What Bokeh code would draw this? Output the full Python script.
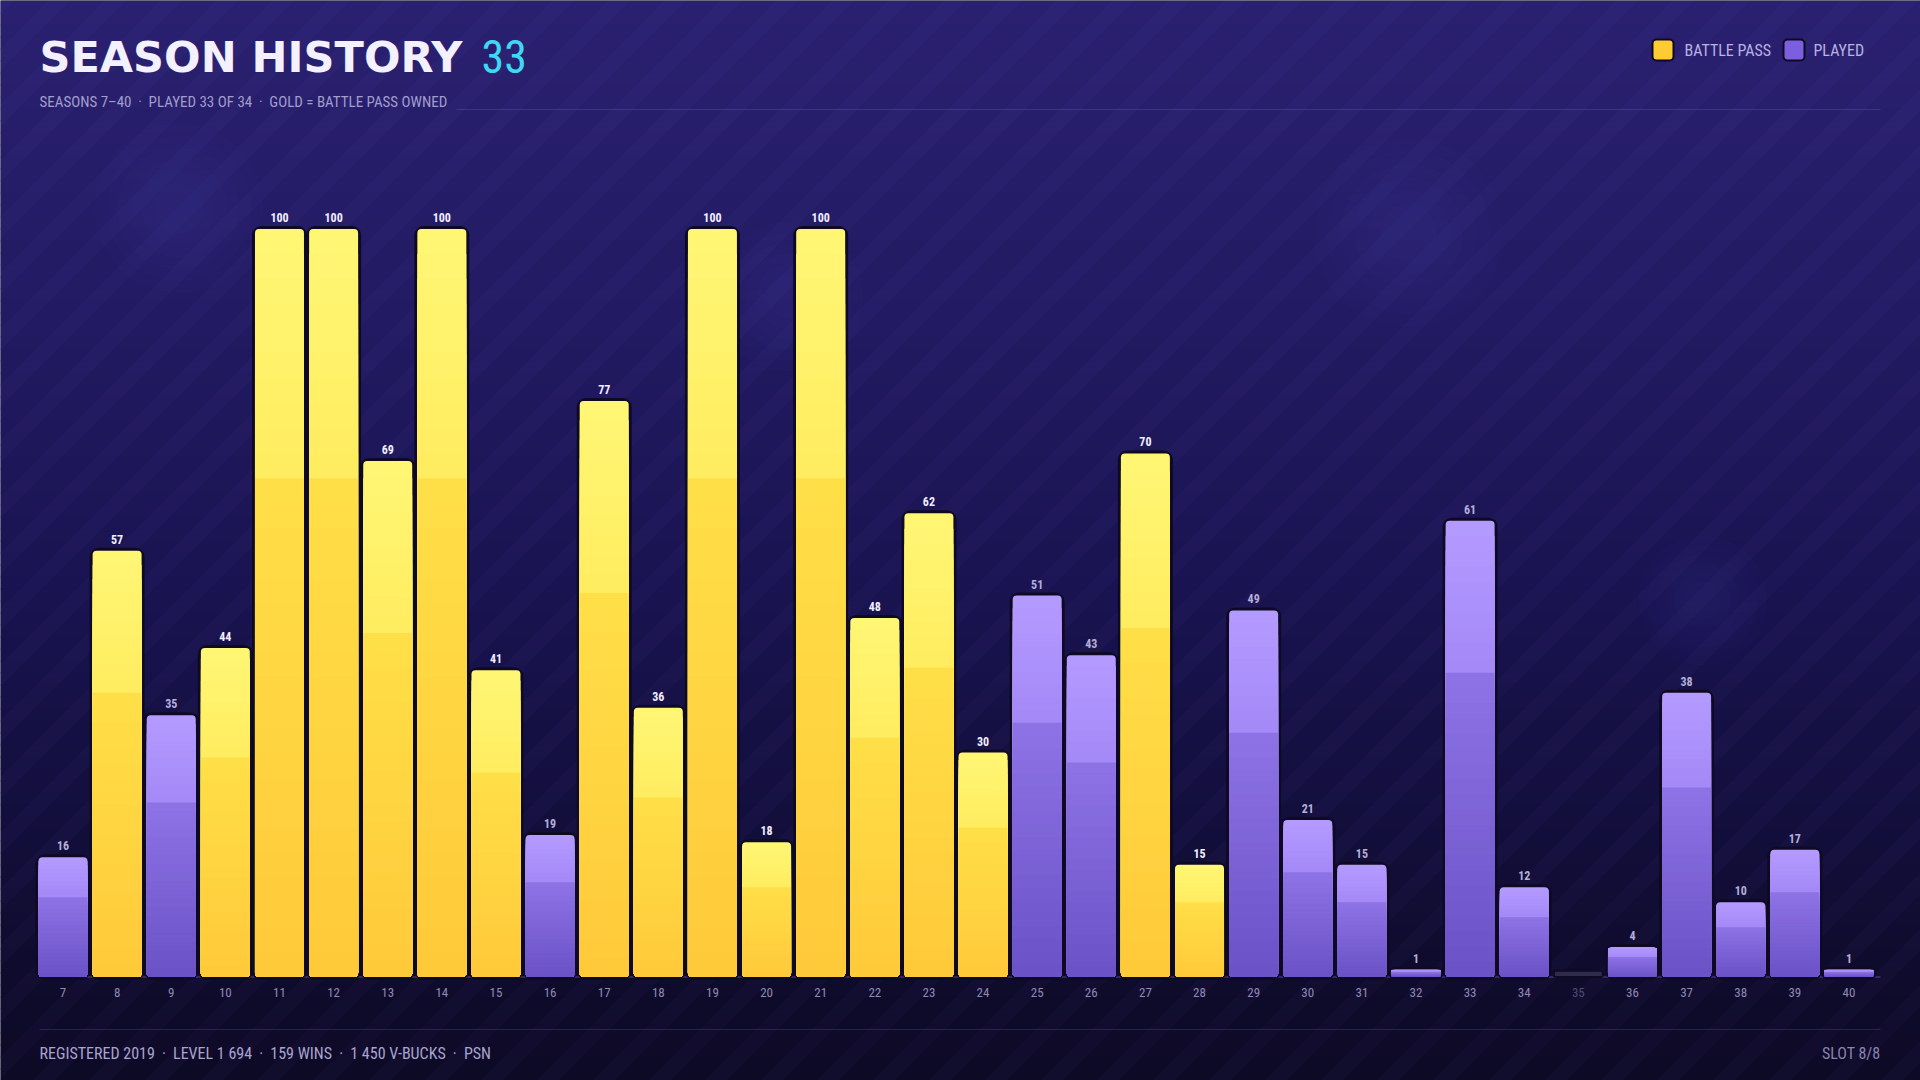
import numpy as np
from bokeh.plotting import figure
from bokeh.models import Range1d, Label, ColumnDataSource
from bokeh.core.properties import value
from bokeh.embed import file_html
from bokeh.resources import INLINE

# ---------------- data ----------------
seasons = [7, 8, 9, 10, 11, 12, 13, 14, 15, 16, 17, 18, 19, 20, 21, 22, 23, 24,
           25, 26, 27, 28, 29, 30, 31, 32, 33, 34, 35, 36, 37, 38, 39, 40]
levels = [16, 57, 35, 44, 100, 100, 69, 100, 41, 19, 77, 36, 100, 18, 100, 48, 62, 30,
          51, 43, 70, 15, 49, 21, 15, 1, 61, 12, 0, 4, 38, 10, 17, 1]
battle_pass = [0, 1, 0, 1, 1, 1, 1, 1, 1, 0, 1, 1, 1, 1, 1, 1, 1, 1,
               0, 0, 1, 1, 0, 0, 0, 0, 0, 0, 0, 0, 0, 0, 0, 0]
played = [1, 1, 1, 1, 1, 1, 1, 1, 1, 1, 1, 1, 1, 1, 1, 1, 1, 1,
          1, 1, 1, 1, 1, 1, 1, 1, 1, 1, 0, 1, 1, 1, 1, 1]

title_text = "SEASON HISTORY"
title_count = "33"
subtitle_text = "SEASONS 7\u201340\u2002\u00b7\u2002PLAYED 33 OF 34\u2002\u00b7\u2002GOLD = BATTLE PASS OWNED"
legend_labels = ["BATTLE PASS", "PLAYED"]
footer_left = "REGISTERED 2019\u2002\u00b7\u2002LEVEL 1 694\u2002\u00b7\u2002159 WINS\u2002\u00b7\u20021 450 V-BUCKS\u2002\u00b7\u2002PSN"
footer_right = "SLOT 8/8"

# ---------------- layout ----------------
W, H = 1920, 1080
SX = 54.12          # px per season
SY = 7.48           # px per level unit
X0 = 7 - 62.5 / SX
X1 = X0 + W / SX
BASE_PY = 976.5
Y1 = BASE_PY / SY
Y0 = Y1 - H / SY


def dx(px):
    return X0 + px / SX


def dy(py):
    return Y1 - py / SY


NARROW = "Roboto Condensed, Liberation Sans Narrow, DejaVu Sans Condensed, Roboto"


def hex2rgb(h):
    h = h.lstrip("#")
    return tuple(int(h[i:i + 2], 16) for i in (0, 2, 4))


def lerp(stops, f):
    for (f0, c0), (f1, c1) in zip(stops[:-1], stops[1:]):
        if f0 <= f <= f1:
            t = 0 if f1 == f0 else (f - f0) / (f1 - f0)
            a, b = hex2rgb(c0), hex2rgb(c1)
            return "#%02x%02x%02x" % tuple(int(round(a[i] + (b[i] - a[i]) * t)) for i in range(3))
    return stops[-1][1]


p = figure(width=W, height=H, x_range=Range1d(X0, X1), y_range=Range1d(Y0, Y1),
           x_axis_type=None, y_axis_type=None, output_backend="svg",
           toolbar_location=None, min_border=0, outline_line_color=None,
           background_fill_color="#0e0b26", border_fill_color="#0e0b26")
p.grid.visible = False

# ---------------- background ----------------
bg_stops = [(0.0, "#2a2070"), (0.3, "#221a62"), (0.55, "#191350"),
            (0.78, "#120e3a"), (0.9, "#0f0b2c"), (1.0, "#0d0a26")]
NB = 90
bl, br_, bt, bb, bc = [], [], [], [], []
for i in range(NB):
    y_top = i * H / NB
    y_bot = (i + 1) * H / NB + 1
    bl.append(dx(0)); br_.append(dx(W))
    bt.append(dy(y_top)); bb.append(dy(y_bot))
    bc.append(lerp(bg_stops, (i + 0.5) / NB))
p.quad(left=bl, right=br_, top=bt, bottom=bb, fill_color=bc, line_color=None)

# diagonal stripes
t = 1.0
xs, ys = [], []
sw = 22
for k, c in enumerate(range(-1200, W + 60, 56)):
    pts = [(c, H), (c + sw, H), (c + sw + H * t, 0), (c + H * t, 0)]
    xs.append([dx(a) for a, b in pts])
    ys.append([dy(b) for a, b in pts])
p.patches(xs, ys, fill_color="#9d8cff", fill_alpha=0.032, line_color=None)

# soft glows
for gx, gy, gs in [(178, 208, 170), (1408, 232, 190), (1702, 600, 130), (788, 296, 150)]:
    for s in np.linspace(gs * 0.3, gs, 6):
        p.scatter([dx(gx)], [dy(gy)], size=s, fill_color="#6a58d8", fill_alpha=0.025,
                  line_color=None)

# ---------------- lines ----------------
p.segment(x0=[dx(456)], y0=[dy(109)], x1=[dx(1880)], y1=[dy(109)],
          line_color="#5a4f9a", line_alpha=0.45, line_width=1.2)
p.segment(x0=[dx(39)], y0=[dy(1029)], x1=[dx(1880)], y1=[dy(1029)],
          line_color="#3a3366", line_alpha=0.6, line_width=1.2)
p.segment(x0=[dx(39)], y0=[0], x1=[dx(1880)], y1=[0],
          line_color="#3d3670", line_width=1.5)

# ---------------- bars ----------------
gold_stops = [(0.0, "#ffc93a"), (0.66, "#ffdf48"), (0.667, "#ffec60"), (1.0, "#fff775")]
purple_stops = [(0.0, "#6a51c6"), (0.66, "#8d73e5"), (0.667, "#a488f7"), (1.0, "#b49bff")]

BAR_W = 0.905
N = 30
R = 4

x_pl = [s for s, pl in zip(seasons, played) if pl]
v_pl = [v for v, pl in zip(levels, played) if pl]

# dark outlines behind the bars
p.vbar(x=x_pl, width=BAR_W, bottom=0, top=v_pl, fill_color="#0e0a24",
       line_color="#0e0a24", line_width=6, border_radius=R + 2)

for flag, stops in [(1, gold_stops), (0, purple_stops)]:
    xsel = [s for s, b, pl in zip(seasons, battle_pass, played) if pl and b == flag]
    vsel = [v for v, b, pl in zip(levels, battle_pass, played) if pl and b == flag]
    for k in range(N):
        frac = (N - k) / N
        mid = (N - k - 0.5) / N
        p.vbar(x=xsel, width=BAR_W, bottom=0, top=[v * frac for v in vsel],
               fill_color=lerp(stops, mid), line_color=None,
               border_radius=R if k == 0 else (0, 0, R, R))

# unplayed stub
STUB = 0.85
x_un = [s for s, pl in zip(seasons, played) if not pl]
p.vbar(x=x_un, width=BAR_W, bottom=0,
       top=[max(v, STUB) for v, pl in zip(levels, played) if not pl],
       fill_color="#2f2b4b", line_color="#0e0a24", line_width=2, border_radius=2)

# value labels
lab_src = ColumnDataSource(dict(
    x=x_pl, y=v_pl, text=[str(v) for v in v_pl],
    color=["#f3efff" if b else "#b6afd9" for b, pl in zip(battle_pass, played) if pl]))
p.text(x="x", y="y", text="text", source=lab_src, text_color="color",
       text_align="center", text_baseline="bottom", y_offset=-7,
       text_font=value(NARROW), text_font_size="12px", text_font_style="bold")

# season tick labels
tick_src = ColumnDataSource(dict(
    x=seasons, y=[0] * len(seasons), text=[str(s) for s in seasons],
    color=["#8f89b8" if pl else "#4f4972" for pl in played]))
p.text(x="x", y="y", text="text", source=tick_src, text_color="color",
       text_align="center", text_baseline="middle", y_offset=15.5,
       text_font=value(NARROW), text_font_size="13px")

# ---------------- texts ----------------
p.add_layout(Label(x=dx(39), y=dy(56), text=title_text, text_font="DejaVu Sans",
                   text_font_style="bold", text_font_size="43px", text_color="#f3f0ff",
                   text_baseline="middle"))
p.add_layout(Label(x=dx(481), y=dy(56), text=title_count, text_font=NARROW,
                   text_font_size="46px", text_color="#3fd8f2",
                   text_baseline="middle"))
p.add_layout(Label(x=dx(39), y=dy(101), text=subtitle_text, text_font=NARROW,
                   text_font_size="15px", text_color="#a39dcc",
                   text_baseline="middle"))

# legend
leg_colors = ["#ffcc33", "#7b5fe0"]
leg_px = [1652, 1783]
leg_tx = [1684, 1813]
p.quad(left=[dx(a) for a in leg_px], right=[dx(a + 21) for a in leg_px],
       top=[dy(39)] * 2, bottom=[dy(60)] * 2, fill_color=leg_colors,
       line_color="#0e0a24", line_width=2, border_radius=4)
for tx, lab in zip(leg_tx, legend_labels):
    p.add_layout(Label(x=dx(tx), y=dy(50), text=lab, text_font=NARROW,
                       text_font_size="16px", text_color="#b9b3e2",
                       text_baseline="middle"))

# footer
p.add_layout(Label(x=dx(39), y=dy(1053), text=footer_left, text_font=NARROW,
                   text_font_size="16px", text_color="#aaa4cf",
                   text_baseline="middle"))
p.add_layout(Label(x=dx(1880), y=dy(1053), text=footer_right, text_font=NARROW,
                   text_font_size="16px", text_color="#8a84b2",
                   text_baseline="middle", text_align="right"))

open("out.html", "w").write(file_html(p, INLINE))
